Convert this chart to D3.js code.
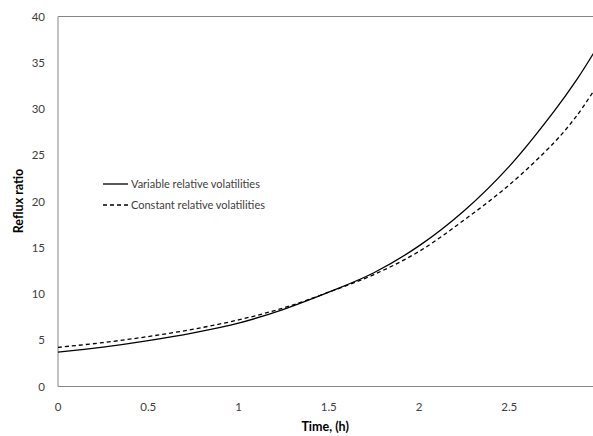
<!DOCTYPE html>
<html>
<head>
<meta charset="utf-8">
<script src="https://cdn.jsdelivr.net/npm/d3@7.9.0/dist/d3.min.js"></script>
<style>
  body { margin: 0; background: #fff; }
  text { font-family: Lato, "Open Sans", sans-serif; fill: #404040; }
</style>
</head>
<body>
<svg id="chart" width="593" height="436"></svg>
<script>
// time in hours
const timeH = [0, 0.25, 0.5, 0.75, 1.0, 1.25, 1.5, 1.75, 2.0, 2.25, 2.5, 2.75, 2.875, 2.966];
// reflux ratio, variable relative volatilities
const variableRR = [3.72, 4.25, 4.95, 5.8, 6.85, 8.35, 10.2, 12.3, 15.2, 19.0, 23.8, 29.8, 33.2, 36.0];
// reflux ratio, constant relative volatilities
const constantRR = [4.23, 4.75, 5.4, 6.2, 7.2, 8.5, 10.2, 12.1, 14.6, 18.0, 21.8, 26.4, 29.3, 31.9];

const xTicks = [0, 0.5, 1, 1.5, 2, 2.5];
const yTicks = [0, 5, 10, 15, 20, 25, 30, 35, 40];

const seriesNames = ["Variable relative volatilities", "Constant relative volatilities"];

const svg = d3.select("#chart");

const x = d3.scaleLinear().domain([0, 3]).range([58, 599.5]);
const y = d3.scaleLinear().domain([0, 40]).range([386.5, 16.5]);

// axes frame (left, bottom, top)
svg.append("line")
  .attr("x1", x(0)).attr("x2", x(0))
  .attr("y1", y(0)).attr("y2", y(40))
  .attr("stroke", "#868686").attr("stroke-width", 1);
svg.append("line")
  .attr("x1", x(0)).attr("x2", 593)
  .attr("y1", y(0)).attr("y2", y(0))
  .attr("stroke", "#868686").attr("stroke-width", 1);
svg.append("line")
  .attr("x1", x(0)).attr("x2", 593)
  .attr("y1", y(40)).attr("y2", y(40))
  .attr("stroke", "#868686").attr("stroke-width", 1);

// tick labels
svg.selectAll(".ytick")
  .data(yTicks)
  .enter()
  .append("text")
  .attr("class", "ytick")
  .attr("x", 45)
  .attr("y", d => y(d) + 4)
  .attr("text-anchor", "end")
  .attr("font-size", 11.5)
  .text(d => d);

svg.selectAll(".xtick")
  .data(xTicks)
  .enter()
  .append("text")
  .attr("class", "xtick")
  .attr("x", d => x(d))
  .attr("y", 411)
  .attr("text-anchor", "middle")
  .attr("font-size", 11.5)
  .text(d => d);

// axis titles
svg.append("text")
  .attr("x", x(1.48)).attr("y", 431)
  .attr("text-anchor", "middle")
  .attr("font-size", 12.5)
  .attr("font-weight", "bold")
  .style("fill", "#000")
  .text("Time, (h)");

svg.append("text")
  .attr("transform", "translate(23,201) rotate(-90)")
  .attr("text-anchor", "middle")
  .attr("font-size", 12.5)
  .attr("font-weight", "bold")
  .style("fill", "#000")
  .text("Reflux ratio");

// curves
const line = d3.line()
  .x(d => x(d[0]))
  .y(d => y(d[1]))
  .curve(d3.curveCatmullRom.alpha(0.5));

svg.append("path")
  .datum(d3.zip(timeH, variableRR))
  .attr("d", line)
  .attr("fill", "none")
  .attr("stroke", "#000")
  .attr("stroke-width", 1.3);

svg.append("path")
  .datum(d3.zip(timeH, constantRR))
  .attr("d", line)
  .attr("fill", "none")
  .attr("stroke", "#000")
  .attr("stroke-width", 1.3)
  .attr("stroke-dasharray", "4,3");

// legend
const legend = svg.append("g");
seriesNames.forEach((name, i) => {
  const ly = 184 + i * 21;
  legend.append("line")
    .attr("x1", 103).attr("x2", 128)
    .attr("y1", ly).attr("y2", ly)
    .attr("stroke", "#000")
    .attr("stroke-width", 1.3)
    .attr("stroke-dasharray", i === 0 ? null : "4,3");
  legend.append("text")
    .attr("x", 131)
    .attr("y", ly + 4)
    .attr("font-size", 11)
    .text(name);
});
</script>
</body>
</html>
